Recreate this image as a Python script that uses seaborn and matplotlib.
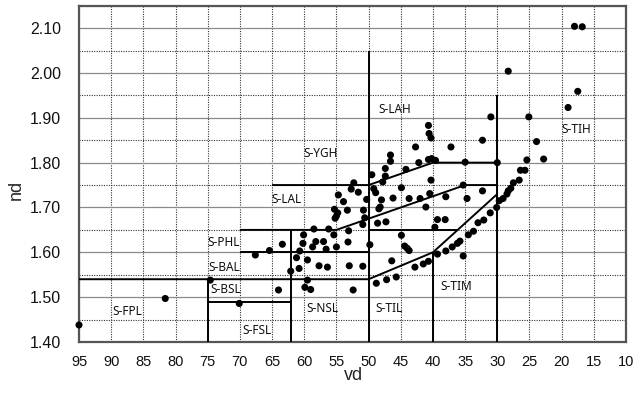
import matplotlib
matplotlib.use("Agg")
import matplotlib.pyplot as plt
from matplotlib.ticker import MultipleLocator
import numpy as np
import pandas as pd
import seaborn as sns

# Glass types: Abbe number (vd) and refractive index (nd)
vd = [95.0, 81.6, 74.6, 70.1, 67.6, 65.4, 64.0, 63.4, 62.1, 60.8, 61.2, 60.7, 60.2, 60.1,
      59.5, 59.9, 59.0, 59.5, 58.7, 58.2, 58.5, 57.0, 56.6, 56.2, 57.7, 56.4, 55.4, 55.0,
      53.2, 53.1, 53.0, 50.9, 52.4,
      55.3, 54.8, 55.0, 55.2, 53.3, 53.9, 54.7, 52.3, 52.7, 51.6, 50.8, 50.6, 50.9, 50.3,
      49.5, 49.2, 48.9, 48.0, 48.4, 48.2, 48.6, 47.3, 47.8, 47.4, 47.4, 46.6, 46.6, 46.2,
      44.2, 44.9, 43.7, 42.0, 42.7, 42.2, 41.1, 40.7, 40.6, 40.3, 40.7, 40.2, 39.6, 40.3,
      40.5, 39.3, 38.1, 39.7, 38.0, 37.2, 35.0, 35.3, 34.7, 32.3, 32.3, 31.0, 30.0, 28.3,
      25.1, 23.9, 25.4, 22.8, 26.4, 25.7, 26.6, 27.5, 27.9, 28.3, 28.5, 29.1, 29.7, 30.1,
      31.1, 32.1, 33.0, 33.7, 34.5, 35.8, 36.2, 37.0, 38.0, 39.3, 35.3, 40.7, 41.5, 42.8,
      44.4, 44.0, 43.7, 44.9, 49.8, 46.4, 48.8, 47.2, 45.7, 18.0, 16.8, 17.5, 19.0]
nd = [1.438, 1.497, 1.538, 1.486, 1.594, 1.604, 1.516, 1.618, 1.558, 1.564, 1.588, 1.603, 1.620, 1.639,
      1.538, 1.522, 1.517, 1.583, 1.612, 1.624, 1.652, 1.624, 1.607, 1.652, 1.570, 1.567, 1.639, 1.612,
      1.623, 1.648, 1.570, 1.569, 1.516,
      1.696, 1.688, 1.681, 1.676, 1.694, 1.713, 1.728, 1.755, 1.741, 1.734, 1.694, 1.677, 1.662, 1.718,
      1.773, 1.742, 1.733, 1.717, 1.697, 1.701, 1.665, 1.668, 1.757, 1.770, 1.787, 1.803, 1.817, 1.721,
      1.785, 1.744, 1.720, 1.720, 1.835, 1.800, 1.701, 1.883, 1.865, 1.855, 1.807, 1.809, 1.805, 1.761,
      1.731, 1.673, 1.673, 1.656, 1.724, 1.835, 1.801, 1.750, 1.720, 1.737, 1.850, 1.902, 1.800, 2.004,
      1.902, 1.847, 1.806, 1.808, 1.783, 1.783, 1.761, 1.755, 1.743, 1.737, 1.730, 1.720, 1.715, 1.700,
      1.688, 1.672, 1.666, 1.647, 1.639, 1.625, 1.620, 1.612, 1.603, 1.596, 1.592, 1.580, 1.574, 1.567,
      1.614, 1.609, 1.604, 1.638, 1.617, 1.581, 1.531, 1.539, 1.545, 2.104, 2.103, 1.959, 1.923]

# Glass-family boundaries, each a polyline of (vd, nd) vertices
boundaries = [
    [(95, 1.54), (50, 1.54), (40, 1.60), (30, 1.73)],
    [(75, 1.40), (75, 1.54)],
    [(75, 1.49), (62, 1.49)],
    [(62, 1.40), (62, 1.65)],
    [(70, 1.60), (50, 1.60)],
    [(70, 1.65), (55, 1.65), (35, 1.75), (30, 1.75)],
    [(65, 1.75), (50, 1.75), (40, 1.80), (30, 1.80)],
    [(50, 1.65), (36.2, 1.65)],
    [(50, 1.40), (50, 2.05)],
    [(40, 1.40), (40, 1.60)],
    [(30, 1.40), (30, 1.95)],
]

# Family names and where they are written
region_names = ["S-FPL", "S-BSL", "S-FSL", "S-NSL", "S-PHL", "S-BAL", "S-LAL",
                "S-YGH", "S-LAH", "S-TIH", "S-TIL", "S-TIM"]
region_vd = [87.5, 72.2, 67.3, 57.2, 72.5, 72.5, 62.7, 57.4, 46.0, 17.8, 46.8, 36.4]
region_nd = [1.469, 1.516, 1.425, 1.474, 1.623, 1.567, 1.717, 1.821, 1.919, 1.875, 1.474, 1.523]

x_ticks = list(range(95, 5, -5))
y_ticks = [1.40, 1.50, 1.60, 1.70, 1.80, 1.90, 2.00, 2.10]

sns.set_style("white")
plt.rcParams["font.family"] = ["Liberation Sans", "DejaVu Sans"]

fig = plt.figure(figsize=(6.34, 3.96), dpi=100)
ax = fig.add_axes([79 / 634, 1 - 342 / 396, (626 - 79) / 634, (342 - 5.7) / 396])

ax.set_xlim(95, 10)
ax.set_ylim(1.40, 2.15)

ax.yaxis.set_minor_locator(MultipleLocator(0.05))
ax.set_xticks(x_ticks)
ax.set_yticks(y_ticks)
ax.set_xticklabels([str(t) for t in x_ticks])
ax.set_yticklabels([f"{t:.2f}" for t in y_ticks])
ax.tick_params(axis="both", which="both", length=0, colors="#111111")
ax.tick_params(axis="x", pad=9, labelsize=10.5)
ax.tick_params(axis="y", pad=13, labelsize=11.5)

ax.set_axisbelow(True)
ax.grid(which="major", axis="y", color="#8a8a8a", linestyle="-", linewidth=0.9)
ax.grid(which="minor", axis="y", color="#333333", linestyle=(0, (1, 1.2)), linewidth=0.8)
ax.grid(which="major", axis="x", color="#333333", linestyle=(0, (1, 1.2)), linewidth=0.8)

for side in ax.spines.values():
    side.set_color("#555555")
    side.set_linewidth(1.6)

for line in boundaries:
    xs, ys = zip(*line)
    ax.plot(xs, ys, color="black", linewidth=1.4, solid_capstyle="butt", zorder=3)

df = pd.DataFrame({"vd": vd, "nd": nd})
sns.scatterplot(data=df, x="vd", y="nd", ax=ax, color="black", s=26,
                edgecolor="none", zorder=4, clip_on=False, legend=False)

for name, x, y in zip(region_names, region_vd, region_nd):
    ax.text(x, y, name, ha="center", va="center", fontsize=8.5,
            family=["Noto Sans", "DejaVu Sans"], color="#111111", zorder=5)

ax.set_xlabel("")
ax.set_ylabel("")
fig.text(354 / 634, 1 - 376 / 396, "vd", ha="center", va="center", fontsize=13)
fig.text(16 / 634, 1 - 190 / 396, "nd", ha="center", va="center", fontsize=13, rotation=90)

fig.savefig("out.png", dpi=100)
